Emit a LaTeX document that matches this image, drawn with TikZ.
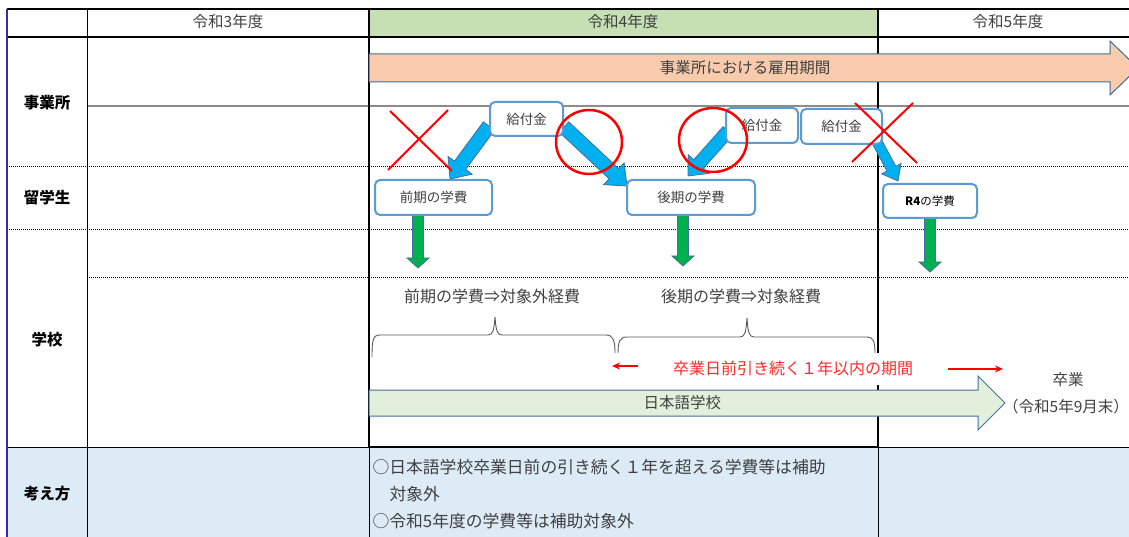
\documentclass[tikz,border=0pt]{standalone}
\usepackage{fontspec}
\setmainfont{Noto Sans CJK JP}
\usetikzlibrary{calc,arrows.meta}
\definecolor{hdrgreen}{HTML}{C6E0B4}
\definecolor{rowblue}{HTML}{DDEBF7}
\definecolor{orangefill}{HTML}{F8CBAD}
\definecolor{schoolfill}{HTML}{E2EFDA}
\definecolor{steel}{HTML}{41719C}
\definecolor{boxblue}{HTML}{5B9BD5}
\definecolor{cyanfill}{HTML}{00B0F0}
\definecolor{greenfill}{HTML}{00B050}
\definecolor{txtgray}{HTML}{404040}
\definecolor{bordblue}{HTML}{2F2FA0}
\definecolor{bracegray}{HTML}{595959}
\definecolor{midgray}{HTML}{8C8C8C}
\definecolor{softred}{HTML}{FF2A2A}
\newcommand{\fsz}[1]{\fontsize{#1pt}{#1pt}\selectfont}
% block arrow: start, tip, body half width, head half width, head length, style
\newcommand{\blkarrow}[6]{%
  \path[#6] let \p1=(#1), \p2=(#2),
    \n1={atan2(\y2-\y1,\x2-\x1)}, \n2={veclen(\x2-\x1,\y2-\y1)}, \n3={\n2-#5pt} in
    [shift={(\x1,\y1)}, rotate=\n1]
    (0pt,#3pt) -- (\n3,#3pt) -- (\n3,#4pt) -- (\n2,0pt)
    -- (\n3,-#4pt) -- (\n3,-#3pt) -- (0pt,-#3pt) -- cycle;}
\tikzset{
  thickrule/.style={line width=1.8pt, black},
  thinrule/.style={line width=0.9pt, black},
  dotrule/.style={line width=1pt, black, dash pattern=on 1pt off 1pt},
  hdr/.style={text=txtgray, font=\fsz{15.5}},
  rowlabel/.style={text=black, font=\fsz{15.5}\bfseries},
  plain/.style={text=txtgray, font=\fsz{15.5}},
  stepbox/.style={draw=boxblue, line width=2pt, rounded corners=5pt, fill=white,
    text=txtgray, font=\fsz{13.5}, inner sep=0pt},
  bigarrow/.style={draw=steel, line width=1pt},
  cyanarrow/.style={draw=steel, line width=0.8pt, fill=cyanfill},
  greenarrow/.style={draw=steel, line width=0.8pt, fill=greenfill},
  redmark/.style={draw=red, line width=2pt},
  bracepath/.style={draw=bracegray, line width=0.9pt},
  redarrow/.style={draw=red, line width=1.3pt, -{Stealth[length=8pt,width=7pt]}},
}
\begin{document}
\begin{tikzpicture}[x=1pt,y=-1pt]
\useasboundingbox (0,0) rectangle (1129,537);
% cell fills
\fill[hdrgreen] (369,9) rectangle (878,37);
\fill[rowblue] (7,447) rectangle (1129,537);
% horizontal rules
\draw[thickrule] (7,9) -- (1129,9);
\draw[thickrule] (7,37) -- (1129,37);
\draw[line width=1.2pt, midgray] (87,106) -- (1129,106);
\draw[dotrule] (7,167) -- (1129,167);
\draw[dotrule] (7,230) -- (1129,230);
\draw[dotrule] (87,277) -- (1129,277);
\draw[thinrule] (7,447) -- (1129,447);
\draw[thickrule] (369,447) -- (878,447);
% vertical rules
\draw[thinrule] (87,9) -- (87,537);
\draw[thickrule] (369,9) -- (369,447);
\draw[thinrule] (369,447) -- (369,537);
\draw[thickrule] (878,9) -- (878,353) (878,385) -- (878,447);
\draw[thinrule] (878,447) -- (878,537);
\draw[bordblue, line width=1.2pt] (7,9) -- (7,537);
% header texts
\node[hdr] (h3) at (228,22) {令和3年度};
\node[hdr] (h4) at (623,22) {令和4年度};
\node[hdr] (h5) at (1008,22) {令和5年度};
% row labels
\node[rowlabel] (l1) at (47,103) {事業所};
\node[rowlabel] (l2) at (47,198) {留学生};
\node[rowlabel] (l3) at (47,340) {学校};
\node[rowlabel] (l4) at (47,494) {考え方};
% big arrows
\coordinate (emps) at (369,68);
\coordinate (empt) at (1138,68);
\blkarrow{emps}{empt}{14}{27}{28}{bigarrow, fill=orangefill}
\node[plain] (emptext) at (745,68) {事業所における雇用期間};
\coordinate (schs) at (369,403);
\coordinate (scht) at (1005,403);
\blkarrow{schs}{scht}{13}{27}{27}{bigarrow, fill=schoolfill}
\node[plain, anchor=west] (schtext) at (640,403) {日本語学校};
% arrow endpoints
\coordinate (a1s) at (489,126);
\coordinate (a1t) at (450,179);
\coordinate (a2s) at (564,127);
\coordinate (a2t) at (627,186);
\coordinate (a3s) at (728,131);
\coordinate (a3t) at (688,176);
\coordinate (a4s) at (876,140);
\coordinate (a4t) at (898,181);
\blkarrow{a1s}{a1t}{7}{15}{17}{cyanarrow}
\blkarrow{a2s}{a2t}{7}{15}{18}{cyanarrow}
\blkarrow{a3s}{a3t}{6.5}{14}{16}{cyanarrow}
\blkarrow{a4s}{a4t}{5}{11}{14}{cyanarrow}
\coordinate (g1s) at (418,214);
\coordinate (g1t) at (418,268);
\coordinate (g2s) at (683,214);
\coordinate (g2t) at (683,266);
\coordinate (g3s) at (930,217);
\coordinate (g3t) at (930,272);
\blkarrow{g1s}{g1t}{5.5}{11}{10}{greenarrow}
\blkarrow{g2s}{g2t}{5.5}{11}{10}{greenarrow}
\blkarrow{g3s}{g3t}{5.5}{11}{10}{greenarrow}
% boxes
\node[stepbox, minimum width=73pt, minimum height=34pt] (k1) at (526.5,119) {給付金};
\node[stepbox, minimum width=72pt, minimum height=35pt] (k2) at (762,125.5) {給付金};
\node[stepbox, minimum width=81pt, minimum height=35pt] (k3) at (841.5,126.5) {給付金};
\node[stepbox, minimum width=117pt, minimum height=35pt] (zenki) at (433.5,197.5) {前期の学費};
\node[stepbox, minimum width=128pt, minimum height=35pt] (kouki) at (691,197.5) {後期の学費};
\node[stepbox, minimum width=94pt, minimum height=34pt, text=black, font=\fsz{11.5}] (r4) at (930,201) {\textbf{R4}の学費};
% red marks
\draw[redmark] (390,111) -- (452,171) (448,110) -- (388,170);
\draw[redmark] (855,103) -- (917,163) (913,103) -- (852,162);
\draw[redmark, line width=2.5pt] (589,142) ellipse [x radius=33, y radius=32];
\draw[redmark, line width=2.5pt] (713,140) ellipse [x radius=34, y radius=32];
% school row texts
\node[plain, font=\fsz{16}] (zt) at (492,296) {前期の学費⇒対象外経費};
\node[plain, font=\fsz{16}] (kt) at (741,296) {後期の学費⇒対象経費};
% braces
\draw[bracepath] (372,357) .. controls (372,340) and (373,335) .. (380,335)
  -- (488,335) .. controls (493,335) and (494,330) .. (495,317)
  .. controls (496,330) and (497,335) .. (502,335)
  -- (606,335) .. controls (613,335) and (615,340) .. (615,353);
\draw[bracepath] (618,353) .. controls (618,341) and (620,337) .. (627,337)
  -- (740,337) .. controls (745,337) and (746,332) .. (747,318)
  .. controls (748,332) and (749,337) .. (754,337)
  -- (867,337) .. controls (873,337) and (875,341) .. (875,353);
% red period
\coordinate (rl1) at (638,366);
\coordinate (rl2) at (612,366);
\coordinate (rr1) at (948,369);
\coordinate (rr2) at (1003,369);
\draw[redarrow] (rl1) -- (rl2);
\draw[redarrow] (rr1) -- (rr2);
\node[text=softred, font=\fsz{16}] (period) at (793,368) {卒業日前引き続く１年以内の期間};
% graduation
\node[plain] (grad1) at (1068,380) {卒業};
\node[plain] (grad2) at (1066,407) {（令和5年9月末）};
% bottom texts
\node[plain, anchor=west, font=\fsz{16.8}] (b1) at (369,467) {○日本語学校卒業日前の引き続く１年を超える学費等は補助};
\node[plain, anchor=west, font=\fsz{16.8}] (b2) at (386,494) {対象外};
\node[plain, anchor=west, font=\fsz{16.8}] (b3) at (369,521) {○令和5年度の学費等は補助対象外};
\end{tikzpicture}
\end{document}
